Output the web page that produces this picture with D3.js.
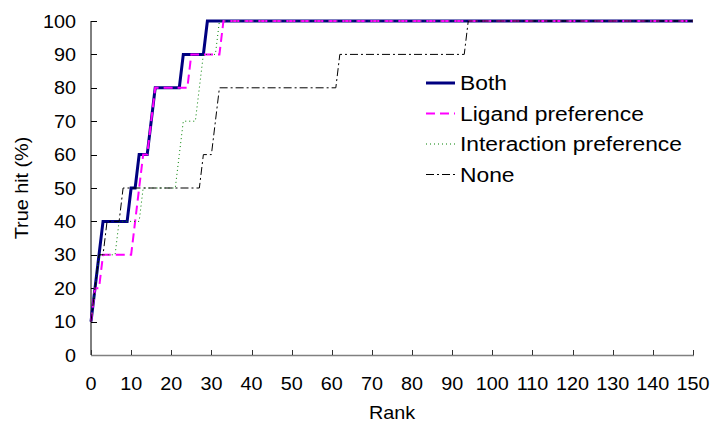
<!DOCTYPE html>
<html>
<head>
<meta charset="utf-8">
<script src="https://cdn.jsdelivr.net/npm/d3@7"></script>
<style>
  html, body { margin: 0; padding: 0; background: #fff; }
  svg { display: block; font-family: "Liberation Sans", Arial, sans-serif; }
</style>
</head>
<body>
<svg id="chart" width="713" height="427"></svg>
<script>
// Cumulative true-hit rate (%) against rank for each scoring scheme
const bothRank        = [0, 1, 2, 3, 9, 10, 11, 12, 14, 15, 16, 22, 23, 28, 29, 150];
const bothHit         = [10, 20, 30, 40, 40, 50, 50, 60, 60, 70, 80, 80, 90, 90, 100, 100];
const ligandRank      = [0, 1, 2, 3, 10, 11, 12, 13, 14, 15, 16, 24, 25, 32, 33, 150];
const ligandHit       = [10, 20, 20, 30, 30, 40, 50, 60, 60, 70, 80, 80, 90, 90, 100, 100];
const interactionRank = [0, 1, 2, 6, 7, 12, 13, 21, 22, 23, 26, 27, 28, 31, 32, 150];
const interactionHit  = [10, 20, 30, 30, 40, 40, 50, 50, 60, 70, 70, 80, 90, 90, 100, 100];
const noneRank        = [0, 1, 2, 3, 4, 7, 8, 27, 28, 30, 31, 32, 61, 62, 93, 94, 150];
const noneHit         = [10, 20, 30, 30, 40, 40, 50, 50, 60, 60, 70, 80, 80, 90, 90, 100, 100];

const seriesNames = ["Both", "Ligand preference", "Interaction preference", "None"];
const xTicks = d3.range(0, 151, 10);
const yTicks = d3.range(0, 101, 10);

const series = [
  { name: seriesNames[0], rank: bothRank, hit: bothHit, color: "#000080", width: 3, dash: null },
  { name: seriesNames[1], rank: ligandRank, hit: ligandHit, color: "#ff00ff", width: 2, dash: "9,5" },
  { name: seriesNames[2], rank: interactionRank, hit: interactionHit, color: "#008000", width: 1, dash: "1,3" },
  { name: seriesNames[3], rank: noneRank, hit: noneHit, color: "#000000", width: 1, dash: "8,3,2,3" }
];

const svg = d3.select("#chart");
const x = d3.scaleLinear().domain([0, 150]).range([91, 693]);
const y = d3.scaleLinear().domain([0, 100]).range([355, 21]);
const sx = 1.1; // horizontal stretch of the lettering

// y axis: ticks point into the plot
svg.append("line").attr("x1", x(0)).attr("x2", x(0)).attr("y1", y(0)).attr("y2", y(100))
  .attr("stroke", "#000").attr("stroke-width", 1);
svg.selectAll(".ytick").data(yTicks).join("line")
  .attr("x1", x(0)).attr("x2", x(0) + 6)
  .attr("y1", d => Math.round(y(d)) + 0.5).attr("y2", d => Math.round(y(d)) + 0.5)
  .attr("stroke", "#000").attr("stroke-width", 1);
svg.selectAll(".ylab").data(yTicks).join("text")
  .attr("transform", d => `translate(76,${y(d) + 6.5}) scale(${sx},1)`)
  .attr("text-anchor", "end").attr("font-size", 18).attr("fill", "#000")
  .text(d => d);

// x axis
svg.append("line").attr("x1", x(0)).attr("x2", x(150) + 1).attr("y1", y(0) + 0.5).attr("y2", y(0) + 0.5)
  .attr("stroke", "#808080").attr("stroke-width", 1.5);
svg.selectAll(".xtick").data(xTicks).join("line")
  .attr("x1", d => Math.round(x(d)) + 0.5).attr("x2", d => Math.round(x(d)) + 0.5)
  .attr("y1", y(0)).attr("y2", y(0) - 5)
  .attr("stroke", "#333").attr("stroke-width", 1);
svg.selectAll(".xlab").data(xTicks).join("text")
  .attr("transform", d => `translate(${x(d)},390) scale(${sx},1)`)
  .attr("text-anchor", "middle").attr("font-size", 18).attr("fill", "#000")
  .text(d => d);

// axis titles
svg.append("text").attr("transform", `translate(392,419) scale(${sx},1)`)
  .attr("text-anchor", "middle").attr("font-size", 18).text("Rank");
svg.append("text").attr("transform", `translate(28,188) rotate(-90) scale(${sx},1)`)
  .attr("text-anchor", "middle").attr("font-size", 18).text("True hit (%)");

// series lines
const line = d3.line().x(d => x(d[0])).y(d => y(d[1]));
series.forEach(s => {
  const pts = s.rank.map((r, i) => [r, s.hit[i]]);
  svg.append("path").datum(pts)
    .attr("d", line)
    .attr("fill", "none")
    .attr("stroke", s.color)
    .attr("stroke-width", s.width)
    .attr("stroke-dasharray", s.dash)
    .attr("stroke-linejoin", "miter");
});

// legend
const legend = svg.append("g");
series.forEach((s, i) => {
  const cy = 83 + i * 30.5;
  legend.append("line").attr("x1", 426).attr("x2", 455).attr("y1", cy).attr("y2", cy)
    .attr("stroke", s.color).attr("stroke-width", s.width)
    .attr("stroke-dasharray", s.dash);
  legend.append("text").attr("transform", `translate(460,${cy + 7}) scale(1.17,1)`)
    .attr("font-size", 19.5).attr("fill", "#000").text(s.name);
});
</script>
</body>
</html>
